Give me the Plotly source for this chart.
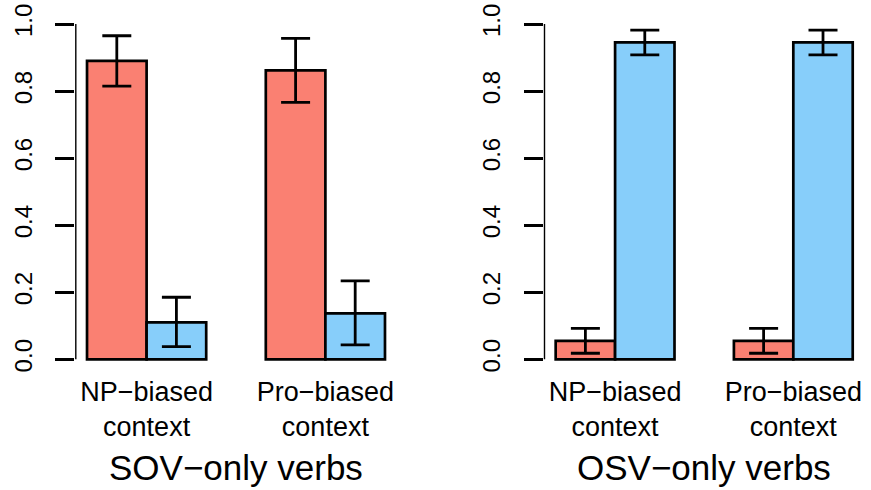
import plotly.graph_objects as go

# ---- data ----
contexts = ["NP−biased<br>context", "Pro−biased<br>context"]
panel_titles = ["SOV−only verbs", "OSV−only verbs"]
y_ticks = [0.0, 0.2, 0.4, 0.6, 0.8, 1.0]
y_tick_labels = ["0.0", "0.2", "0.4", "0.6", "0.8", "1.0"]

sov_red = [0.890, 0.862]
sov_red_hi = [0.965, 0.957]
sov_red_lo = [0.815, 0.766]
sov_blue = [0.110, 0.137]
sov_blue_hi = [0.185, 0.234]
sov_blue_lo = [0.038, 0.043]

osv_red = [0.055, 0.055]
osv_red_hi = [0.092, 0.092]
osv_red_lo = [0.018, 0.018]
osv_blue = [0.945, 0.945]
osv_blue_hi = [0.982, 0.982]
osv_blue_lo = [0.908, 0.908]

RED = "#FA8072"
BLUE = "#87CEFA"
FONT = "Liberation Sans, Arial, Helvetica, sans-serif"

W, H = 871, 490

fig = go.Figure()


def add_bar(vals, hi, lo, color, xa, ya):
    fig.add_trace(go.Bar(
        x=contexts, y=vals,
        marker=dict(color=color, line=dict(color="black", width=2.7)),
        error_y=dict(type="data", symmetric=False,
                     array=[h - v for h, v in zip(hi, vals)],
                     arrayminus=[v - l for v, l in zip(vals, lo)],
                     color="black", thickness=2.8, width=14.5),
        xaxis=xa, yaxis=ya, showlegend=False, hoverinfo="skip",
    ))


add_bar(sov_red, sov_red_hi, sov_red_lo, RED, "x", "y")
add_bar(sov_blue, sov_blue_hi, sov_blue_lo, BLUE, "x", "y")
add_bar(osv_red, osv_red_hi, osv_red_lo, RED, "x2", "y2")
add_bar(osv_blue, osv_blue_hi, osv_blue_lo, BLUE, "x2", "y2")

xcommon = dict(type="category", range=[-0.4, 1.4], showline=False, ticks="",
               showgrid=False, zeroline=False, automargin=False,
               tickfont=dict(family=FONT, size=27, color="black"))
ycommon = dict(range=[-0.04, 1.04], domain=[1 - 372.7 / H, 1 - 10.6 / H],
               tickvals=y_ticks, ticktext=y_tick_labels,
               ticks="outside", ticklen=19, tickwidth=2.8, tickcolor="black",
               tickangle=-90, ticklabelstandoff=14, ticklabeloverflow="allow",
               showgrid=False, zeroline=False, showline=False, automargin=False,
               tickfont=dict(family=FONT, size=24, color="black"))

fig.update_layout(
    width=W, height=H, autosize=False,
    margin=dict(l=0, r=0, t=0, b=0, pad=0),
    paper_bgcolor="white", plot_bgcolor="white",
    barmode="group", bargap=1 / 3, bargroupgap=0,
    xaxis=dict(domain=[75.1 / W, 396.9 / W], anchor="y", **xcommon),
    yaxis=dict(anchor="x", **ycommon),
    xaxis2=dict(domain=[543.8 / W, 864.6 / W], anchor="y2", **xcommon),
    yaxis2=dict(anchor="x2", **ycommon),
)

# y axis lines spanning only the tick range (0 to 1)
for xr, yr in (("x", "y"), ("x2", "y2")):
    fig.add_shape(type="line", xref=xr, yref=yr, x0=-0.4, x1=-0.4,
                  y0=y_ticks[0], y1=y_ticks[-1],
                  line=dict(color="black", width=2.8))

# panel titles
for xr, t in (("x domain", panel_titles[0]), ("x2 domain", panel_titles[1])):
    fig.add_annotation(text=t, xref=xr, x=0.5, yref="paper", y=1 - 467 / H,
                       xanchor="center", yanchor="middle", showarrow=False,
                       font=dict(family=FONT, size=35, color="black"))

fig.write_html("out.html",
               config={"displayModeBar": False},
               post_script="document.body.style.margin='0px';"
                           "document.body.style.overflow='hidden';")
